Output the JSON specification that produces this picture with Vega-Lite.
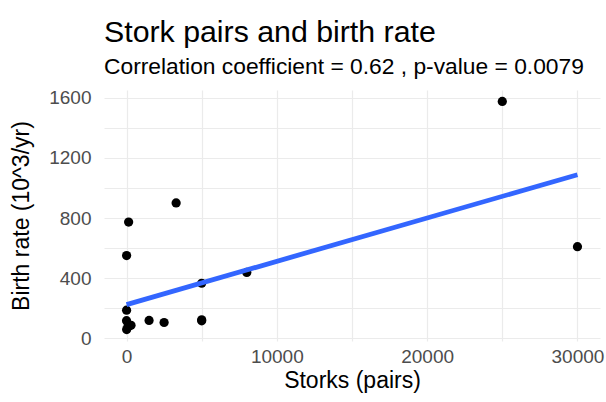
{
  "$schema": "https://vega.github.io/schema/vega-lite/v6.json",
  "width": 496,
  "height": 251,
  "autosize": {"type": "none"},
  "padding": {"left": 104, "top": 90, "right": 6, "bottom": 61},
  "background": "white",
  "title": {
    "text": "Stork pairs and birth rate",
    "subtitle": "Correlation coefficient = 0.62 , p-value = 0.0079",
    "anchor": "start",
    "frame": "group",
    "dx": 0,
    "offset": 10,
    "font": "Liberation Sans",
    "fontSize": 30.3,
    "fontWeight": "normal",
    "color": "black",
    "subtitleFont": "Liberation Sans",
    "subtitleFontSize": 22.8,
    "subtitleColor": "black",
    "subtitlePadding": 8
  },
  "data": {
    "values": [
      {"country": "Albania", "storks": 100, "birth": 83},
      {"country": "Austria", "storks": 300, "birth": 87},
      {"country": "Belgium", "storks": 1, "birth": 118},
      {"country": "Bulgaria", "storks": 5000, "birth": 117},
      {"country": "Denmark", "storks": 9, "birth": 59},
      {"country": "France", "storks": 140, "birth": 774},
      {"country": "Germany", "storks": 3300, "birth": 901},
      {"country": "Greece", "storks": 2500, "birth": 106},
      {"country": "Holland", "storks": 4, "birth": 188},
      {"country": "Hungary", "storks": 5000, "birth": 124},
      {"country": "Italy", "storks": 5, "birth": 551},
      {"country": "Poland", "storks": 30000, "birth": 610},
      {"country": "Portugal", "storks": 1500, "birth": 120},
      {"country": "Romania", "storks": 5000, "birth": 367},
      {"country": "Spain", "storks": 8000, "birth": 439},
      {"country": "Switzerland", "storks": 150, "birth": 82},
      {"country": "Turkey", "storks": 25000, "birth": 1576}
    ]
  },
  "config": {
    "view": {"stroke": null},
    "axis": {
      "domain": false,
      "ticks": false,
      "gridColor": "#EBEBEB",
      "gridWidth": 1.2,
      "labelFont": "Liberation Sans",
      "labelFontSize": 19,
      "labelColor": "#4D4D4D",
      "titleFont": "Liberation Sans",
      "titleFontSize": 23,
      "titleFontWeight": "normal",
      "titleColor": "black"
    }
  },
  "encoding": {
    "x": {
      "field": "storks",
      "type": "quantitative",
      "scale": {"domain": [-1499, 31500], "nice": false, "zero": false},
      "axis": {
        "title": "Storks (pairs)",
        "values": [0, 5000, 10000, 15000, 20000, 25000, 30000],
        "labelExpr": "datum.value % 10000 === 0 ? datum.value : ''",
        "format": "d",
        "labelPadding": 6,
        "titlePadding": 3,
        "labelFlush": false,
        "labelOverlap": false
      }
    },
    "y": {
      "field": "birth",
      "type": "quantitative",
      "scale": {"domain": [-17, 1652], "nice": false, "zero": false},
      "axis": {
        "title": "Birth rate (10^3/yr)",
        "values": [0, 200, 400, 600, 800, 1000, 1200, 1400, 1600],
        "labelExpr": "datum.value % 400 === 0 ? datum.value : ''",
        "format": "d",
        "labelPadding": 13,
        "titlePadding": 15,
        "labelFlush": false,
        "labelOverlap": false
      }
    }
  },
  "layer": [
    {
      "mark": {"type": "circle", "size": 85, "color": "black", "opacity": 1}
    },
    {
      "transform": [{"regression": "birth", "on": "storks", "method": "linear"}],
      "mark": {"type": "line", "color": "#3366FF", "strokeWidth": 4.8}
    }
  ]
}
